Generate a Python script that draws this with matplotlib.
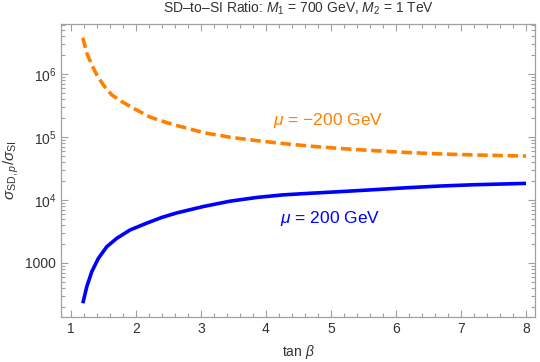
import matplotlib
matplotlib.use("Agg")
import matplotlib.pyplot as plt
from matplotlib.ticker import FixedLocator, NullFormatter

plt.rcParams['font.family'] = ['Liberation Sans', 'DejaVu Sans']
plt.rcParams['mathtext.fontset'] = 'custom'
plt.rcParams['mathtext.rm'] = 'Liberation Sans'
plt.rcParams['mathtext.it'] = 'Liberation Sans:italic'
plt.rcParams['mathtext.bf'] = 'Liberation Sans:bold'

# data
tanb_neg = [1.185, 1.246, 1.323, 1.40, 1.50, 1.63, 1.785, 1.963, 2.22, 2.477, 2.63, 3.04, 3.45,
            3.86, 4.27, 4.67, 5.14, 5.655, 6.17, 6.68, 7.19, 8.0]
ratio_neg = [3.8e6, 2.16e6, 1.41e6, 9.75e5, 6.76e5, 4.69e5, 3.67e5, 2.88e5, 2.08e5, 1.7e5, 1.53e5,
             1.18e5, 9.96e4, 8.8e4, 7.9e4, 7.2e4, 6.6e4, 6.1e4, 5.7e4, 5.41e4, 5.21e4, 5.0e4]
tanb_pos = [1.185, 1.246, 1.323, 1.425, 1.554, 1.708, 1.912, 2.169, 2.40, 2.63, 3.04, 3.45, 3.86,
            4.27, 4.67, 5.14, 5.655, 6.17, 6.68, 7.19, 8.0]
ratio_pos = [229, 420, 728, 1188, 1816, 2470, 3350, 4300, 5300, 6250, 7900, 9600, 1.1e4,
             1.21e4, 1.28e4, 1.36e4, 1.46e4, 1.57e4, 1.67e4, 1.75e4, 1.84e4]

xticks = [1, 2, 3, 4, 5, 6, 7, 8]
yticks = [1e3, 1e4, 1e5, 1e6]
ytick_labels = ['1000', r'$10^4$', r'$10^5$', r'$10^6$']

orange = '#FF8000'
blue = '#0000FF'
frame = '#A0A0A0'
textc = '#333333'

fig = plt.figure(figsize=(5.4, 3.62), dpi=100)
ax = fig.add_axes([0.113, 0.124, 0.878, 0.810])

ax.plot(tanb_neg, ratio_neg, color=orange, lw=2.6, dashes=(2.9, 1.3))
ax.plot(tanb_pos, ratio_pos, color=blue, lw=2.6, solid_capstyle='butt', solid_joinstyle='round')

ax.set_yscale('log')
ax.set_xlim(0.85, 8.14)
ax.set_ylim(138, 6.3e6)

ax.xaxis.set_major_locator(FixedLocator(xticks))
ax.set_xticklabels([str(t) for t in xticks])
minor_x = [1 + 0.2 * i for i in range(-1, 36) if i % 5 != 0]
ax.xaxis.set_minor_locator(FixedLocator(minor_x))

ax.yaxis.set_major_locator(FixedLocator(yticks))
ax.set_yticklabels(ytick_labels)
minor_y = [m * 10 ** e for e in range(2, 7) for m in range(2, 10)]
ax.yaxis.set_minor_locator(FixedLocator(minor_y))
ax.yaxis.set_minor_formatter(NullFormatter())

ax.tick_params(which='both', direction='in', top=True, right=True, color=frame,
               labelcolor=textc, labelsize=10, width=0.8)
ax.tick_params(which='major', length=5)
ax.tick_params(which='minor', length=2.8)
for s in ax.spines.values():
    s.set_color(frame)
    s.set_linewidth(0.9)

ax.set_xlabel(r'tan $\beta$', fontsize=10, color=textc, labelpad=5)
ax.set_ylabel(r'$\sigma_{\mathrm{SD},p}/\sigma_{\mathrm{SI}}$', fontsize=11, color=textc, labelpad=3)
ax.set_title(r'SD–to–SI Ratio: $M_1$ = 700 GeV, $M_2$ = 1 TeV', fontsize=10, color=textc, pad=8)

ax.text(4.96, 1.87e5, r'$\mu$ = −200 GeV', color=orange, fontsize=12.5, ha='center', va='center')
ax.text(4.99, 5.0e3, r'$\mu$ = 200 GeV', color=blue, fontsize=12.5, ha='center', va='center')

fig.savefig('out.png', dpi=100)
